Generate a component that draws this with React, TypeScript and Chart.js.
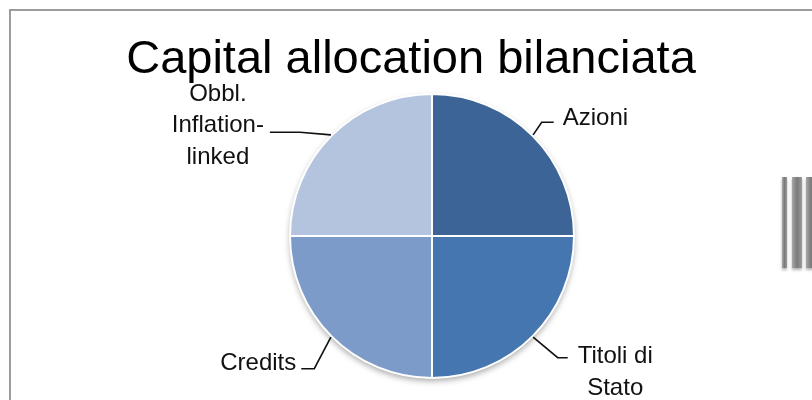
import React, { useEffect, useRef } from "react";
import { Chart, registerables } from "chart.js";

Chart.register(...registerables);

// ---- data ----
const categories = ["Azioni", "Titoli di Stato", "Credits", "Obbl. Inflation-linked"];
const labelLines = [["Azioni"], ["Titoli di", "Stato"], ["Credits"], ["Obbl.", "Inflation-", "linked"]];
const weights = [25, 25, 25, 25];
const sliceColors = ["#3C6496", "#4676AF", "#7D9BC8", "#B4C4DE"];
const titleText = "Capital allocation bilanciata";

// ---- style / layout ----
const FONT = "'Liberation Sans', Arial, Helvetica, sans-serif";
const PIE_RADIUS = 142;
const TITLE_X = 411;
const TITLE_BASELINE = 73;
const LABEL_SIZE = 24;
const LINE_HEIGHT = 31.5;
const labelLayout = [
  { elbow: [8.6, -12.6], run: 12, textDx: 9, textDy: -4, align: "left" },
  { elbow: [24.6, 20.6], run: 10, textDx: 47.5, textDy: -1, align: "center" },
  { elbow: [-16.6, 31.6], run: -13, textDx: -5, textDy: -5.5, align: "right" },
  { elbow: [-31, -2.6], run: -30, textDx: -52, textDy: -38, align: "center" },
];

const decoPlugin = {
  id: "deco",
  beforeDraw(chart: any) {
    const ctx = chart.ctx;
    ctx.save();
    // frame
    ctx.strokeStyle = "#9c9c9c";
    ctx.lineWidth = 2;
    ctx.beginPath();
    ctx.moveTo(10, chart.height + 5);
    ctx.lineTo(10, 10);
    ctx.lineTo(chart.width + 5, 10);
    ctx.stroke();
    // decorative bars at right edge
    const bars = [
      [782, 5],
      [792, 10],
      [806, 10],
    ];
    ctx.shadowColor = "rgba(0,0,0,0.3)";
    ctx.shadowBlur = 3;
    ctx.shadowOffsetY = 2;
    bars.forEach(([x, w]) => {
      const g = ctx.createLinearGradient(x, 0, x + w, 0);
      g.addColorStop(0, "#a8a8a8");
      g.addColorStop(0.5, "#7a7a7a");
      g.addColorStop(1, "#9a9a9a");
      ctx.fillStyle = g;
      ctx.fillRect(x, 177, w, 91);
    });
    ctx.restore();
    // title
    ctx.save();
    ctx.fillStyle = "#000";
    ctx.font = `47px ${FONT}`;
    ctx.textAlign = "center";
    ctx.textBaseline = "alphabetic";
    ctx.fillText(titleText, TITLE_X, TITLE_BASELINE);
    ctx.restore();
  },
  beforeDatasetsDraw(chart: any) {
    const meta = chart.getDatasetMeta(0);
    const arc = meta.data[0];
    if (!arc) return;
    const { x, y, outerRadius } = arc.getProps(["x", "y", "outerRadius"], true);
    const ctx = chart.ctx;
    ctx.save();
    ctx.shadowColor = "rgba(0,0,0,0.35)";
    ctx.shadowBlur = 6;
    ctx.shadowOffsetY = 3;
    ctx.fillStyle = "#ffffff";
    ctx.beginPath();
    ctx.arc(x, y, outerRadius, 0, Math.PI * 2);
    ctx.fill();
    ctx.restore();
  },
  afterDatasetsDraw(chart: any) {
    const meta = chart.getDatasetMeta(0);
    const ctx = chart.ctx;
    ctx.save();
    meta.data.forEach((arc: any, i: number) => {
      const { x, y, startAngle, endAngle, outerRadius } = arc.getProps(
        ["x", "y", "startAngle", "endAngle", "outerRadius"],
        true
      );
      const mid = (startAngle + endAngle) / 2;
      const ax = x + Math.cos(mid) * (outerRadius + 1);
      const ay = y + Math.sin(mid) * (outerRadius + 1);
      const L = labelLayout[i];
      const ex = ax + L.elbow[0];
      const ey = ay + L.elbow[1];
      const rx = ex + L.run;
      ctx.strokeStyle = "#111";
      ctx.lineWidth = 1.6;
      ctx.beginPath();
      ctx.moveTo(ax, ay);
      ctx.lineTo(ex, ey);
      ctx.lineTo(rx, ey);
      ctx.stroke();
      ctx.fillStyle = "#111";
      ctx.font = `${LABEL_SIZE}px ${FONT}`;
      ctx.textAlign = L.align;
      ctx.textBaseline = "middle";
      labelLines[i].forEach((line, k) => {
        ctx.fillText(line, rx + L.textDx, ey + L.textDy + k * LINE_HEIGHT);
      });
    });
    ctx.restore();
  },
};

export default function App() {
  const ref = useRef<HTMLCanvasElement>(null);
  useEffect(() => {
    if (!ref.current) return;
    const chart = new Chart(ref.current, {
      type: "pie",
      data: {
        labels: categories,
        datasets: [
          {
            data: weights,
            backgroundColor: sliceColors,
            borderColor: "#ffffff",
            borderWidth: 2,
            radius: PIE_RADIUS,
          } as any,
        ],
      },
      options: {
        animation: false,
        responsive: true,
        maintainAspectRatio: false,
        layout: { padding: { left: 52, right: 0, top: 80, bottom: 8 } },
        plugins: {
          legend: { display: false },
          tooltip: { enabled: false },
          title: { display: false },
        },
      },
      plugins: [decoPlugin],
    });
    return () => chart.destroy();
  }, []);
  return (
    <div style={{ position: "fixed", left: 0, top: 0, width: 812, height: 400, background: "#fff" }}>
      <canvas ref={ref} />
    </div>
  );
}
